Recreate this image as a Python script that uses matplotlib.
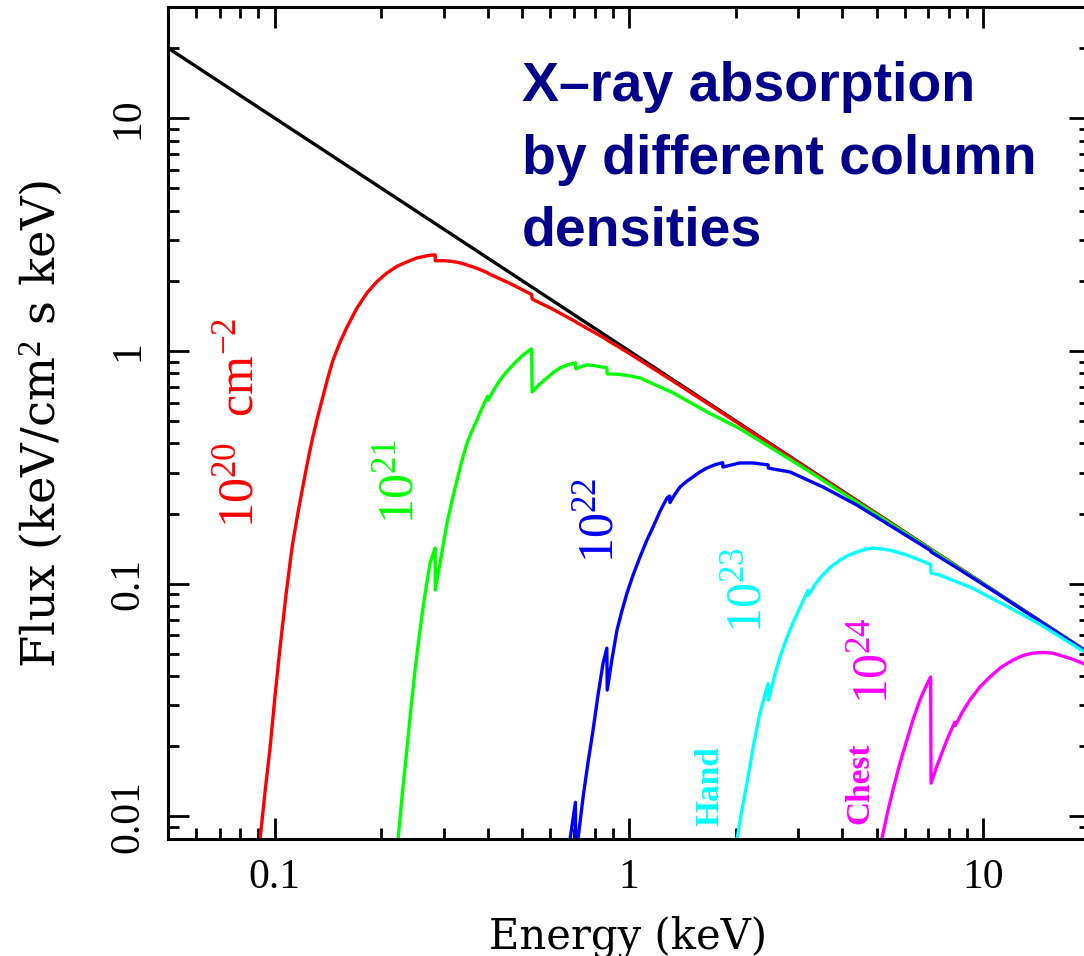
import numpy as np
import matplotlib
matplotlib.use("Agg")
import matplotlib.pyplot as plt
from matplotlib.ticker import LogLocator, NullFormatter

# ---------------- data ----------------
# unabsorbed power law
E_pow = [0.05, 20.0]
F_pow = [20.0, 0.05]

# N_H = 1e20 cm^-2
E_n20 = [0.0905, 0.0910, 0.0940, 0.0971, 0.1003, 0.1036, 0.10772, 0.1120, 0.11574,
         0.1196, 0.12354, 0.1276, 0.13178, 0.1361, 0.14106, 0.1462, 0.15299, 0.1601,
         0.17084, 0.1823, 0.19458, 0.2077, 0.22163, 0.2365, 0.25237, 0.2693, 0.27646,
         0.2838, 0.2840, 0.300, 0.315, 0.3338, 0.37, 0.399, 0.401, 0.46, 0.531, 0.533,
         0.60, 0.706, 0.708, 0.866, 0.868, 1.0, 1.3, 2.0, 3.0, 5.0, 10.0, 20.0]
F_n20 = [0.0075, 0.00806, 0.01286, 0.01984, 0.03331, 0.0534, 0.09023, 0.1437, 0.1929,
         0.2526, 0.3273, 0.4144, 0.510, 0.616, 0.760, 0.915, 1.0916, 1.268,
         1.531, 1.776, 1.987, 2.164, 2.309, 2.413, 2.510, 2.561, 2.576,
         2.585, 2.437, 2.440, 2.425, 2.389, 2.271, 2.165, 2.148, 1.953, 1.747, 1.669,
         1.528, 1.337, 1.330, 1.119, 1.112, 0.977, 0.759, 0.4966, 0.332, 0.1998, 0.0999, 0.05]

# N_H = 1e21 cm^-2
E_n21 = [0.2225, 0.2231, 0.2297, 0.2365, 0.24268, 0.249, 0.25561, 0.2624, 0.26843,
         0.2746, 0.27916, 0.2838, 0.2840, 0.28847, 0.2930, 0.29973, 0.3066, 0.31669,
         0.3271, 0.33793, 0.3491, 0.36061, 0.3725, 0.38553, 0.399, 0.401, 0.41655,
         0.4327, 0.45139, 0.4709, 0.50005, 0.531, 0.533, 0.55934, 0.587, 0.6124,
         0.6389, 0.67162, 0.706, 0.708, 0.734, 0.761, 0.81181, 0.866, 0.868, 0.9317,
         1.0, 1.074, 1.331, 1.66, 2.056, 2.548, 3.178, 3.937, 6.0, 10.0, 20.0]
F_n21 = [0.0076, 0.00806, 0.01289, 0.01984, 0.02951, 0.0425, 0.05884, 0.0793, 0.09947,
         0.1227, 0.1324, 0.1423, 0.0939, 0.1077, 0.1227, 0.1506, 0.1822, 0.2281,
         0.279, 0.3385, 0.4022, 0.4534, 0.505, 0.5719, 0.638, 0.615, 0.6845,
         0.750, 0.814, 0.871, 0.955, 1.020, 0.666, 0.7194, 0.7655, 0.8093,
         0.845, 0.8709, 0.888, 0.837, 0.8567, 0.871, 0.8608, 0.845, 0.796, 0.7939,
         0.782, 0.765, 0.660, 0.5467, 0.463, 0.379, 0.308, 0.2495, 0.1655, 0.0998, 0.05]

# N_H = 1e22 cm^-2
E_n22 = [0.680, 0.682, 0.706, 0.7075, 0.718, 0.742, 0.76645, 0.7917, 0.81792, 0.845,
         0.866, 0.868, 0.89605, 0.925, 0.95549, 0.987, 1.02959, 1.074, 1.12049, 1.169,
         1.22323, 1.28, 1.302, 1.305, 1.3483, 1.393, 1.4528, 1.515, 1.5858, 1.66,
         1.7467, 1.838, 1.841, 2.056, 2.238, 2.469, 2.473, 2.846, 3.526, 4.398,
         5.448, 6.75, 7.10, 7.12, 8.42, 11.13, 20.0]
F_n22 = [0.0076, 0.0080, 0.0115, 0.0066, 0.0080, 0.01209, 0.01711, 0.02348, 0.03334, 0.0456,
         0.0528, 0.0349, 0.04778, 0.0632, 0.0766, 0.0911, 0.1101, 0.1301, 0.1524, 0.175,
         0.2046, 0.2333, 0.238, 0.223, 0.2422, 0.2602, 0.2746, 0.2873, 0.302, 0.314,
         0.3241, 0.331, 0.317, 0.330, 0.330, 0.3236, 0.3135, 0.3019, 0.2602, 0.2175,
         0.1780, 0.1455, 0.1386, 0.1369, 0.1170, 0.0893, 0.0499]

# N_H = 1e23 cm^-2 (Hand)
E_n23 = [2.00, 2.017, 2.0834, 2.152, 2.245, 2.342, 2.469, 2.473, 2.5682, 2.667,
         2.7815, 2.901, 3.0469, 3.200, 3.206, 3.3296, 3.458, 3.6897, 3.937, 4.1611,
         4.398, 4.6328, 4.88, 5.448, 6.084, 6.928, 7.10, 7.12, 7.54, 9.34, 11.65,
         14.43, 20.0]
F_n23 = [0.0075, 0.0080, 0.01067, 0.0139, 0.02015, 0.0278, 0.0372, 0.0316, 0.0396, 0.0483,
         0.0579, 0.0677, 0.0796, 0.0935, 0.0890, 0.0977, 0.1057, 0.1172, 0.1263, 0.1324,
         0.1367, 0.1403, 0.1423, 0.1394, 0.1327, 0.1227, 0.1210, 0.1110, 0.1089, 0.0955, 0.0800,
         0.0670, 0.0492]

# N_H = 1e24 cm^-2 (Chest)
E_n24 = [5.12, 5.17, 5.3595, 5.556, 5.8141, 6.084, 6.3473, 6.622, 6.8568, 7.10, 7.12,
         7.3997, 7.69, 7.994, 8.31, 8.34, 8.7403, 9.16, 9.7746, 10.43, 11.2386, 12.11,
         12.9227, 13.79, 14.714, 15.7, 17.72, 20.0]
F_n24 = [0.0075, 0.0080, 0.01032, 0.01296, 0.01691, 0.02127, 0.02634, 0.0316, 0.0357, 0.0397, 0.0139,
         0.01651, 0.01926, 0.02232, 0.0254, 0.0246, 0.02818, 0.0316, 0.03596, 0.0397, 0.04382, 0.0469,
         0.0491, 0.0503, 0.05065, 0.0503, 0.04758, 0.0442]

x_ticks = [0.1, 1, 10]
x_ticklabels = ["0.1", "1", "10"]
y_ticks = [0.01, 0.1, 1, 10]
y_ticklabels = ["0.01", "0.1", "1", "10"]

# ---------------- style ----------------
plt.rcParams["mathtext.fontset"] = "custom"
plt.rcParams["mathtext.rm"] = "Liberation Serif"
plt.rcParams["mathtext.it"] = "Liberation Serif:italic"
plt.rcParams["mathtext.bf"] = "Liberation Serif:bold"

LW = 2.4
fig = plt.figure(figsize=(10.84, 9.56), dpi=100)
ax = fig.add_axes([168 / 1084, 1 - 839 / 956, 922 / 1084, 832 / 956])
ax.set_xscale("log")
ax.set_yscale("log")

ax.plot(E_pow, F_pow, color="black", lw=LW)
ax.plot(E_n20, F_n20, color="#ff0000", lw=LW)
ax.plot(E_n21, F_n21, color="#00ff00", lw=LW)
ax.plot(E_n22, F_n22, color="#0000ff", lw=LW)
ax.plot(E_n23, F_n23, color="#00ffff", lw=LW)
ax.plot(E_n24, F_n24, color="#ff00ff", lw=LW)

ax.set_xlim(0.05, 20)
ax.set_ylim(0.008, 30)

for sp in ax.spines.values():
    sp.set_linewidth(2.2)

ax.set_xticks(x_ticks, x_ticklabels)
ax.set_yticks(y_ticks, y_ticklabels)
ax.xaxis.set_minor_locator(LogLocator(base=10, subs=np.arange(2, 10), numticks=30))
ax.yaxis.set_minor_locator(LogLocator(base=10, subs=np.arange(2, 10), numticks=30))
ax.xaxis.set_minor_formatter(NullFormatter())
ax.yaxis.set_minor_formatter(NullFormatter())
ax.tick_params(which="both", direction="in", top=True, right=True, width=2.0)
ax.tick_params(which="major", length=15)
ax.tick_params(which="minor", length=8)
ax.tick_params(axis="x", which="major", pad=14, labelsize=30,
               labelfontfamily="Liberation Serif")
ax.tick_params(axis="y", which="major", pad=15, labelsize=30,
               labelfontfamily="Liberation Serif", labelrotation=90)
for lbl in ax.get_yticklabels():
    lbl.set_va("center")

ax.set_xlabel("Energy (keV)", fontsize=30, family="DejaVu Serif")
ax.xaxis.label.set_va("baseline")
ax.xaxis.set_label_coords((628 - 168) / 922, -(948 - 839) / 832)
ax.set_ylabel("Flux (keV/cm$^2$ s keV)", fontsize=33.5, family="DejaVu Serif")
ax.yaxis.label.set_va("center")
ax.yaxis.set_label_coords((42 - 168) / 922, (839 - 424) / 832)

# curve labels
lab = dict(rotation=90, ha="center", va="center", family="Liberation Serif")
ax.text(0.0800, 0.490, r"$10^{20}$  cm$^{-2}$", color="#ff0000", fontsize=36, **lab)
ax.text(0.226, 0.276, r"$10^{21}$", color="#00ff00", fontsize=36, **lab)
ax.text(0.828, 0.1877, r"$10^{22}$", color="#0000ff", fontsize=36, **lab)
ax.text(2.166, 0.0939, r"$10^{23}$", color="#00ffff", fontsize=36, **lab)
ax.text(4.94, 0.0469, r"$10^{24}$", color="#ff00ff", fontsize=36, **lab)
ax.text(1.692, 0.01349, "Hand", color="#00ffff", fontsize=24, fontweight="bold", **lab)
ax.text(4.483, 0.0139, "Chest", color="#ff00ff", fontsize=24, fontweight="bold", **lab)

# title block
tkw = dict(fontsize=40, fontweight="bold", family="Liberation Sans",
           color="#00008b", ha="left", va="baseline")
fig.text(522 / 1084, 1 - 101 / 956, "X\u2013ray absorption", **tkw)
fig.text(522 / 1084, 1 - 173.5 / 956, "by different column", **tkw)
fig.text(522 / 1084, 1 - 246 / 956, "densities", **tkw)

fig.savefig("out.png", dpi=100)
